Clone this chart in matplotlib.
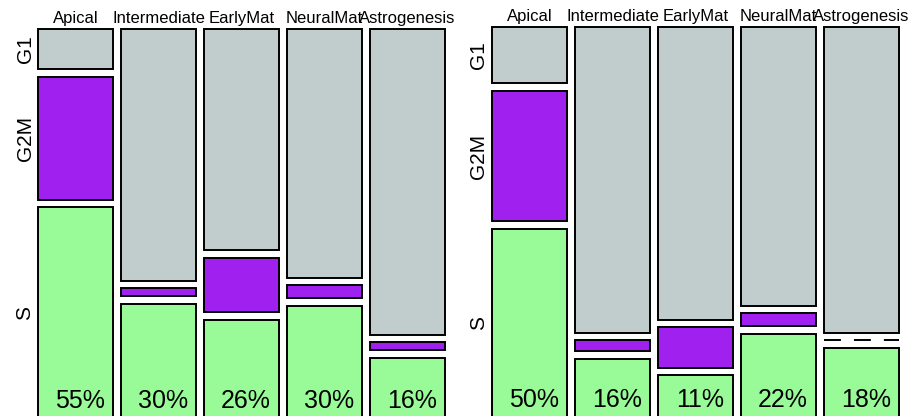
import matplotlib.pyplot as plt
from matplotlib.patches import Rectangle

plt.rcParams['font.family'] = ['Liberation Sans', 'DejaVu Sans']

# columns and rows of the two mosaic plots
stages = ["Apical", "Intermediate", "EarlyMat", "NeuralMat", "Astrogenesis"]
phases = ["G1", "G2M", "S"]

# fraction of each phase within each stage
left_g1 = [0.107, 0.673, 0.592, 0.665, 0.818]
left_g2m = [0.330, 0.021, 0.145, 0.035, 0.021]
left_s = [0.563, 0.306, 0.263, 0.300, 0.161]
left_labels = ["55%", "30%", "26%", "30%", "16%"]

right_g1 = [0.150, 0.815, 0.781, 0.743, 0.815]
right_g2m = [0.348, 0.029, 0.107, 0.035, 0.0]
right_s = [0.502, 0.156, 0.112, 0.222, 0.185]
right_labels = ["50%", "16%", "11%", "22%", "18%"]

colors = {"G1": "#C1CDCD", "G2M": "#A020F0", "S": "#98FB98"}

W, H = 919, 416
fig = plt.figure(figsize=(W / 100, H / 100), dpi=100)


def mosaic(ax, g1, g2m, s, labels, ax_w_px, ax_h_px):
    gx = 7.5 / ax_w_px
    gy = 7.5 / ax_h_px
    n = len(stages)
    cw = (1 - (n - 1) * gx) / n
    ch = 1 - (len(phases) - 1) * gy
    first_centers = []
    for i, stage in enumerate(stages):
        x0 = i * (cw + gx)
        y = 1.0
        for ph, frac in zip(phases, [g1[i], g2m[i], s[i]]):
            h = frac * ch
            if frac == 0:
                # empty cell: dashed line, like R's mosaicplot
                ax.plot([x0, x0 + cw], [y, y], color="black", lw=1.4,
                        ls=(0, (8.7, 6.7)), clip_on=False)
                y -= gy
                continue
            ax.add_patch(Rectangle((x0, y - h), cw, h, facecolor=colors[ph],
                                   edgecolor="black", lw=1.4, clip_on=False))
            if i == 0:
                first_centers.append(y - h / 2)
            y -= h + gy
        ax.text(x0 + cw / 2, 1 + 6 / ax_h_px, stage, ha="center", va="baseline", fontsize=12)
        ax.text(x0 + cw / 2 + 0.011, 10 / ax_h_px, labels[i], ha="center", va="baseline", fontsize=18)
    for ph, yc in zip(phases, first_centers):
        ax.text(-13 / ax_w_px, yc, ph, rotation=90, ha="center", va="center", fontsize=15)
    ax.set_xlim(0, 1)
    ax.set_ylim(0, 1)
    ax.axis("off")


# left panel: x 38..445 px, top 29 px, bottom just below the image
axl = fig.add_axes([38 / W, -2 / H, 407 / W, (418 - 29) / H])
mosaic(axl, left_g1, left_g2m, left_s, left_labels, 407, 389)

# right panel: x 492..899 px, top 27 px
axr = fig.add_axes([492 / W, -1 / H, 407 / W, (417 - 27) / H])
mosaic(axr, right_g1, right_g2m, right_s, right_labels, 407, 390)

fig.savefig("out.png", dpi=100)
